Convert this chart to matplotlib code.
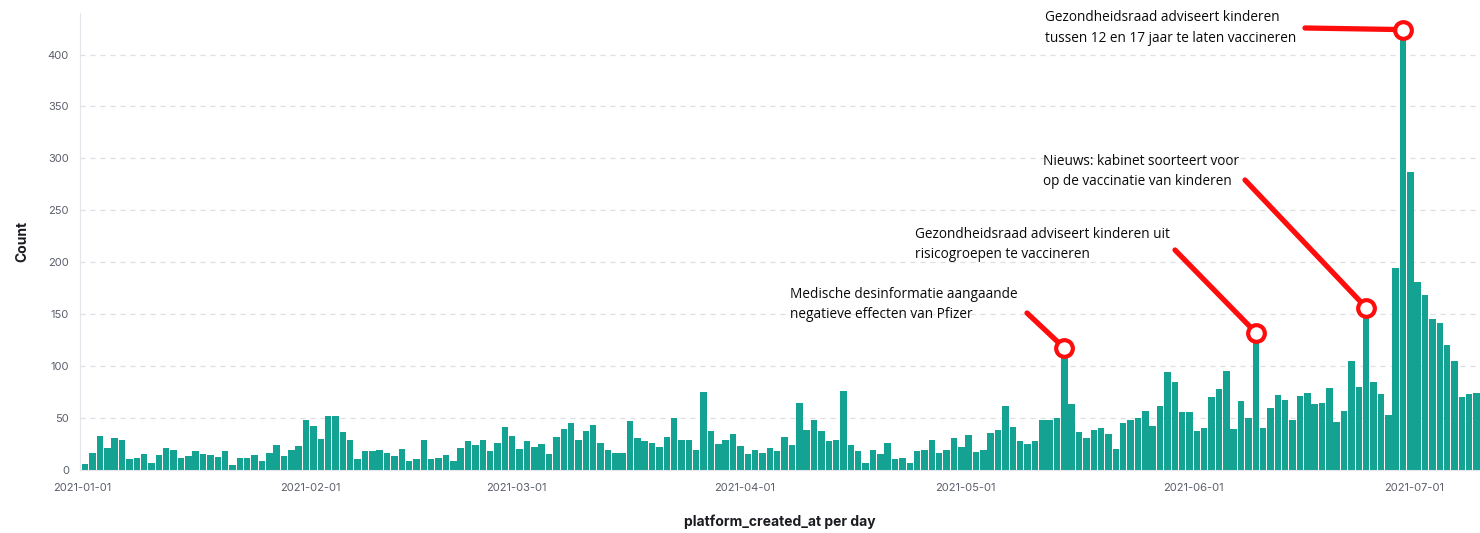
import matplotlib
matplotlib.use("Agg")
import matplotlib.pyplot as plt
import matplotlib.dates as mdates
import pandas as pd
import numpy as np

# ---- data ----
start_date = "2021-01-01"
counts = (
    [5, 16, 32, 21, 30, 28, 10, 11, 15, 6, 14, 21, 19, 11, 13, 18, 15, 14, 12, 18, 4]
    + [11, 11, 14, 8, 16, 24, 13, 19, 23, 48, 42, 29, 52, 52, 36, 28, 10, 18, 18, 19, 16, 13, 20, 8]
    + [10, 28, 10, 11, 14, 8, 21, 27, 24, 28, 18, 26, 41, 32, 20, 27, 22, 25, 15, 31, 39, 45, 28, 37]
    + [43, 26, 19, 16, 16, 47, 30, 27, 26, 22, 31, 50, 28, 28, 19, 75, 37, 25, 28, 34, 23, 15, 19, 16]
    + [21, 18, 31, 24, 64, 38, 48, 37, 27, 28, 76, 24, 18, 6, 19, 15, 26, 10, 11, 6, 18, 19, 28, 16]
    + [19, 30, 22, 33, 17, 19, 35, 38, 61, 41, 27, 25, 27, 48, 48, 50, 117, 63, 36, 30, 38, 40, 34, 20]
    + [45, 48, 50, 56, 42, 61, 94, 84, 55, 55, 37, 40, 70, 78, 95, 39, 66, 50, 132, 40, 59, 72, 67]
    + [48, 71, 74, 63, 64, 79, 46, 56, 105, 80, 156, 84, 73, 53, 194, 424, 287, 181, 168, 145, 141, 120, 105, 70, 73, 74]
)
dates = pd.date_range(start_date, periods=len(counts), freq="D")
tick_labels = ["2021-01-01", "2021-02-01", "2021-03-01", "2021-04-01",
               "2021-05-01", "2021-06-01", "2021-07-01"]
y_ticks = [0, 50, 100, 150, 200, 250, 300, 350, 400]

annot_dates = ["2021-05-14", "2021-06-09", "2021-06-24", "2021-06-29"]
annot_texts = [
    "Medische desinformatie aangaande\nnegatieve effecten van Pfizer",
    "Gezondheidsraad adviseert kinderen uit\nrisicogroepen te vaccineren",
    "Nieuws: kabinet soorteert voor\nop de vaccinatie van kinderen",
    "Gezondheidsraad adviseert kinderen\ntussen 12 en 17 jaar te laten vaccineren",
]

# ---- figure ----
W, H = 1480, 533
fig = plt.figure(figsize=(W / 100, H / 100), dpi=100)
ax = fig.add_axes([80 / W, (H - 469.5) / H, (W - 80) / W, (469.5 - 13) / H])

bar_color = "#14A293"
x = mdates.date2num(dates)
ax.bar(x, counts, width=0.88, align="edge", color=bar_color, zorder=2)

x0 = mdates.date2num(pd.Timestamp(start_date))
ax.set_xlim(x0 - 0.27, x0 + 189.9)
ax.set_ylim(0, 440)

ax.set_xticks(mdates.date2num(pd.to_datetime(tick_labels)))
ax.set_xticklabels(tick_labels)
ax.set_yticks(y_ticks)
ax.set_yticklabels([str(v) for v in y_ticks])

for lab in ax.get_xticklabels() + ax.get_yticklabels():
    lab.set_fontfamily(["Inter", "DejaVu Sans"])
    lab.set_fontsize(8)
    lab.set_color("#5a5f6b")
ax.tick_params(axis="x", length=0, pad=10)
ax.tick_params(axis="y", length=0, pad=8)

ax.yaxis.grid(True, linestyle=(0, (4, 4)), color="#dcdfe5", linewidth=0.9, zorder=0)
ax.xaxis.grid(False)
for s in ["top", "right"]:
    ax.spines[s].set_visible(False)
ax.spines["left"].set_color("#e3e5ea")
ax.spines["bottom"].set_color("#e3e5ea")

ax.set_ylabel("Count", fontsize=10, fontweight="bold", family=["Inter", "DejaVu Sans"],
              color="#1a1c21", labelpad=13)
ax.set_xlabel("platform_created_at per day", fontsize=10, fontweight="bold",
              family=["Inter", "DejaVu Sans"], color="#1a1c21", labelpad=15)

# ---- annotations ----
red = "#ff0d0d"
# text block top-left (image px) and line start (image px)
text_pos = [(790, 287), (915, 227), (1043, 154), (1045, 10)]
line_start = [(1027, 313), (1175, 250), (1245, 180), (1305, 28)]
for d, txt, tp, ls in zip(annot_dates, annot_texts, text_pos, line_start):
    idx = (pd.Timestamp(d) - pd.Timestamp(start_date)).days
    xp = x[idx] + 0.44
    yp = counts[idx]
    ax.annotate("", xy=(xp, yp), xycoords="data",
                xytext=(ls[0], H - ls[1]), textcoords="figure pixels",
                arrowprops=dict(arrowstyle="-", lw=3.8, color=red,
                                shrinkA=0, shrinkB=0),
                annotation_clip=False, zorder=5)
    ax.plot([xp], [yp], marker="o", markersize=12, markeredgewidth=3.0,
            markeredgecolor=red, markerfacecolor="white", zorder=6, clip_on=False)
    fig.text(tp[0] / W, 1 - tp[1] / H, txt, ha="left", va="top",
             fontsize=9.8, family=["Open Sans", "DejaVu Sans"], color="#0a0a0a",
             linespacing=1.5)

fig.savefig("out.png", dpi=100)
